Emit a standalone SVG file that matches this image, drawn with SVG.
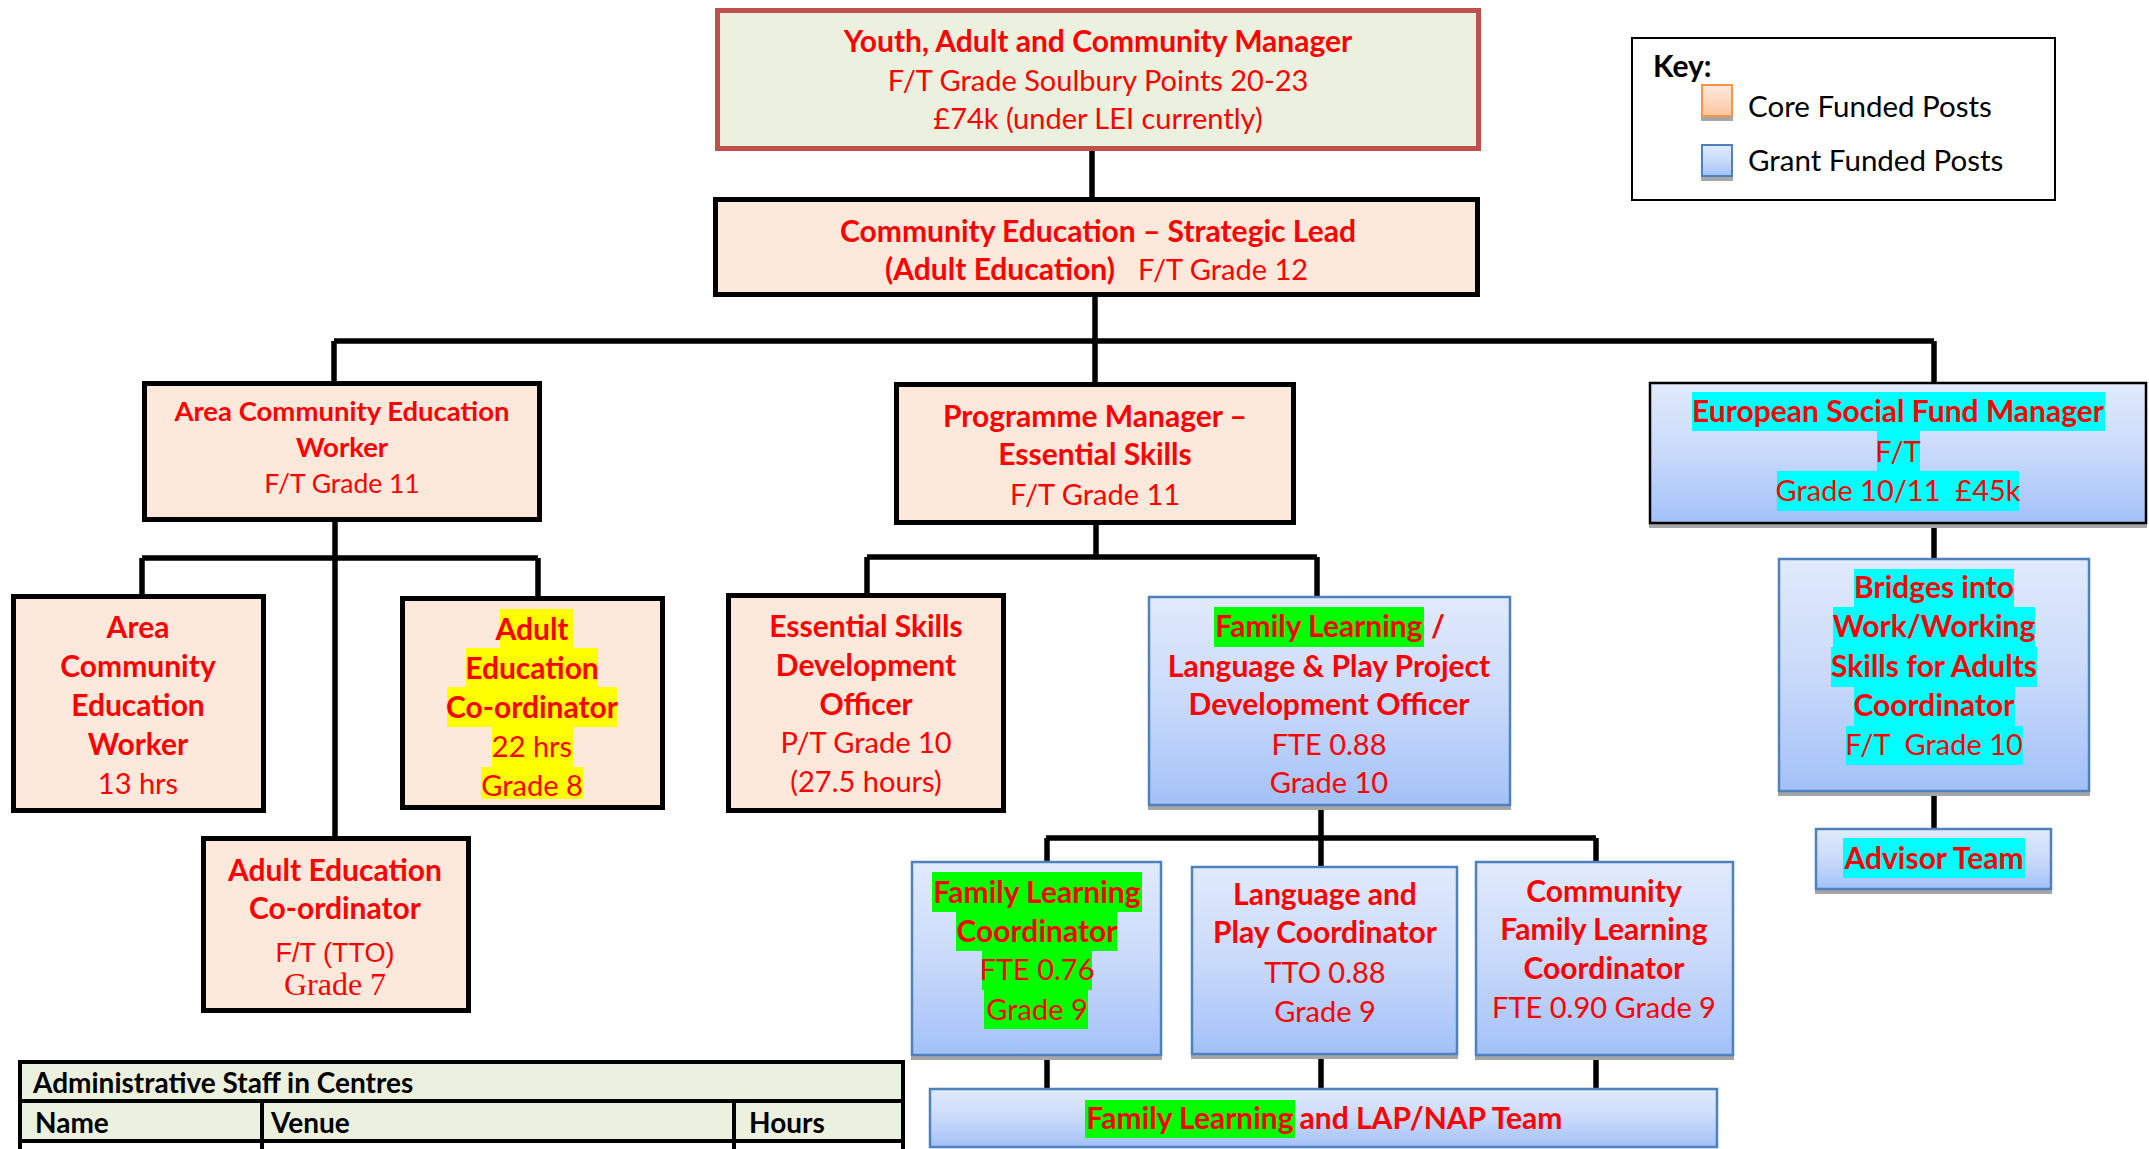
<svg xmlns="http://www.w3.org/2000/svg" width="2149" height="1149" viewBox="0 0 2149 1149">
<defs>
<linearGradient id="gBlue" x1="0" y1="0" x2="0" y2="1">
<stop offset="0" stop-color="#E1EAFC"/>
<stop offset="0.5" stop-color="#C9DAFA"/>
<stop offset="1" stop-color="#A3C1F8"/>
</linearGradient>
<linearGradient id="gOrange" x1="0" y1="0" x2="0" y2="1">
<stop offset="0" stop-color="#FEEADC"/>
<stop offset="1" stop-color="#FBC6A0"/>
</linearGradient>
<style>
.b{font-family:Lato,"Liberation Sans",sans-serif;font-weight:bold;font-size:30px;fill:#FF0000;text-anchor:middle}
.r{font-family:Lato,"Liberation Sans",sans-serif;font-weight:normal;font-size:29px;fill:#FF0000;text-anchor:middle}
.bs{font-size:27.5px}
.rs{font-size:26.5px}
.core{fill:#FDE9DB;stroke:#000;stroke-width:5}
.grant{fill:url(#gBlue);stroke:#4F81BD;stroke-width:2.5}
.shadow{fill:#A6A6A6}
.hy{fill:#FFFF00}
.hg{fill:#00FF00}
.hc{fill:#00FFFF}
.conn{fill:none;stroke:#000;stroke-width:5.5}
.tb{font-family:Lato,"Liberation Sans",sans-serif;font-weight:bold;font-size:28px;fill:#000}
.kt{font-family:Lato,"Liberation Sans",sans-serif;font-size:29.5px;fill:#000}
</style>
</defs>
<rect width="2149" height="1149" fill="#FFFFFF"/>

<g id="connectors">
<path class="conn" d="M1092,151 V199"/>
<path class="conn" d="M1095,296 V341"/>
<path class="conn" d="M334,341 H1934"/>
<path class="conn" d="M334,341 V381"/>
<path class="conn" d="M1095,341 V384"/>
<path class="conn" d="M1934,341 V382"/>
<path class="conn" d="M335,522 V836"/>
<path class="conn" d="M142,558 H538"/>
<path class="conn" d="M142,558 V594"/>
<path class="conn" d="M538,558 V596"/>
<path class="conn" d="M1096,525 V557"/>
<path class="conn" d="M867,557 H1317"/>
<path class="conn" d="M867,557 V593"/>
<path class="conn" d="M1317,557 V596"/>
<path class="conn" d="M1321,806 V838"/>
<path class="conn" d="M1046,838 H1596"/>
<path class="conn" d="M1047,838 V861"/>
<path class="conn" d="M1321,838 V866"/>
<path class="conn" d="M1596,838 V861"/>
<path class="conn" d="M1047,1056 V1088"/>
<path class="conn" d="M1321,1055 V1088"/>
<path class="conn" d="M1596,1056 V1088"/>
<path class="conn" d="M1934,524 V558"/>
<path class="conn" d="M1934,792 V828"/>
</g>

<g id="node-manager">
<rect x="717.5" y="10.5" width="761" height="138" fill="#EBF1DE" stroke="#C0504D" stroke-width="5"/>
<text class="b" x="1098" y="52">Youth, Adult and Community Manager</text>
<text class="r" x="1098" y="91">F/T Grade Soulbury Points 20-23</text>
<text class="r" x="1098" y="129">£74k (under LEI currently)</text>
</g>

<g id="node-strategic-lead">
<rect class="core" x="715.5" y="199.5" width="762" height="95"/>
<text class="b" x="1098" y="242">Community Education – Strategic Lead</text>
<text class="b" x="1000" y="280">(Adult Education)</text>
<text class="r" x="1223" y="280">F/T Grade 12</text>
</g>

<g id="node-area-worker">
<rect class="core" x="144.5" y="383.5" width="395" height="136"/>
<text class="b bs" x="342" y="421">Area Community Education</text>
<text class="b bs" x="342" y="457">Worker</text>
<text class="r rs" x="342" y="493">F/T Grade 11</text>
</g>

<g id="node-area-worker-13">
<rect class="core" x="13.5" y="596.5" width="250" height="214"/>
<text class="b" x="138" y="638">Area</text>
<text class="b" x="138" y="677">Community</text>
<text class="b" x="138" y="716">Education</text>
<text class="b" x="138" y="755">Worker</text>
<text class="r" x="138" y="794">13 hrs</text>
</g>

<g id="node-adult-ed-coord-22">
<rect class="core" x="402.5" y="598.5" width="260" height="209"/>
<rect class="hy" x="500" y="609" width="73" height="39"/>
<rect class="hy" x="466" y="648" width="132" height="39"/>
<rect class="hy" x="447" y="687" width="170" height="40"/>
<rect class="hy" x="492" y="727" width="81" height="40"/>
<rect class="hy" x="481" y="767" width="102" height="32"/>
<text class="b" x="532" y="640">Adult</text>
<text class="b" x="532" y="679">Education</text>
<text class="b" x="532" y="718">Co-ordinator</text>
<text class="r" x="532" y="757">22 hrs</text>
<text class="r" x="532" y="796">Grade 8</text>
</g>

<g id="node-adult-ed-coord-tto">
<rect class="core" x="203.5" y="838.5" width="265" height="172"/>
<text class="b" x="335" y="881">Adult Education</text>
<text class="b" x="335" y="919">Co-ordinator</text>
<text x="335" y="962" style="font-family:'Liberation Sans',Arial,sans-serif;font-size:27px;fill:#FF0000;text-anchor:middle">F/T (TTO)</text>
<text x="335" y="995" style="font-family:'Liberation Serif','Times New Roman',serif;font-size:32px;fill:#FF0000;text-anchor:middle">Grade 7</text>
</g>

<g id="node-programme-manager">
<rect class="core" x="896.5" y="384.5" width="397" height="138"/>
<text class="b" x="1095" y="427">Programme Manager –</text>
<text class="b" x="1095" y="465">Essential Skills</text>
<text class="r" x="1095" y="505">F/T Grade 11</text>
</g>

<g id="node-essential-skills-officer">
<rect class="core" x="728.5" y="595.5" width="275" height="215"/>
<text class="b" x="866" y="637">Essential Skills</text>
<text class="b" x="866" y="676">Development</text>
<text class="b" x="866" y="715">Officer</text>
<text class="r" x="866" y="753">P/T Grade 10</text>
<text class="r" x="866" y="792">(27.5 hours)</text>
</g>

<g id="node-family-learning-officer">
<rect class="shadow" x="1148" y="600" width="363" height="210"/>
<rect class="grant" x="1149" y="597" width="361" height="208"/>
<rect class="hg" x="1214" y="607" width="210" height="40"/>
<text class="b" x="1319" y="637">Family Learning</text>
<text class="b" x="1438" y="637">/</text>
<text class="b" x="1329" y="677">Language &amp; Play Project</text>
<text class="b" x="1329" y="715">Development Officer</text>
<text class="r" x="1329" y="755">FTE 0.88</text>
<text class="r" x="1329" y="793">Grade 10</text>
</g>

<g id="node-family-learning-coord">
<rect class="shadow" x="911" y="865" width="251" height="195"/>
<rect class="grant" x="912" y="862" width="249" height="193"/>
<rect class="hg" x="932" y="872" width="210" height="40"/>
<rect class="hg" x="956" y="912" width="161" height="39"/>
<rect class="hg" x="982" y="951" width="110" height="39"/>
<rect class="hg" x="984" y="990" width="104" height="39"/>
<text class="b" x="1037" y="903">Family Learning</text>
<text class="b" x="1037" y="942">Coordinator</text>
<text class="r" x="1037" y="980">FTE 0.76</text>
<text class="r" x="1037" y="1020">Grade 9</text>
</g>

<g id="node-language-play-coord">
<rect class="shadow" x="1191" y="870" width="267" height="189"/>
<rect class="grant" x="1192" y="867" width="265" height="187"/>
<text class="b" x="1325" y="905">Language and</text>
<text class="b" x="1325" y="943">Play Coordinator</text>
<text class="r" x="1325" y="983">TTO 0.88</text>
<text class="r" x="1325" y="1022">Grade 9</text>
</g>

<g id="node-community-family-learning">
<rect class="shadow" x="1475" y="865" width="259" height="195"/>
<rect class="grant" x="1476" y="862" width="257" height="193"/>
<text class="b" x="1604" y="902">Community</text>
<text class="b" x="1604" y="940">Family Learning</text>
<text class="b" x="1604" y="979">Coordinator</text>
<text class="r" x="1604" y="1018">FTE 0.90 Grade 9</text>
</g>

<g id="node-team">
<rect class="grant" x="930" y="1089" width="787" height="58"/>
<rect class="hg" x="1085" y="1100" width="210" height="38"/>
<text class="b" x="1190" y="1129">Family Learning</text>
<text class="b" x="1431" y="1129">and LAP/NAP Team</text>
</g>

<g id="node-esf-manager">
<rect class="shadow" x="1649" y="387" width="498" height="141"/>
<rect x="1650" y="383" width="496" height="140" fill="url(#gBlue)" stroke="#000" stroke-width="2.5"/>
<rect class="hc" x="1692" y="392" width="413" height="39"/>
<rect class="hc" x="1877" y="431" width="43" height="40"/>
<rect class="hc" x="1777" y="471" width="242" height="40"/>
<text class="b" x="1898" y="422">European Social Fund Manager</text>
<text class="r" x="1898" y="462">F/T</text>
<text class="r" x="1898" y="501">Grade 10/11 &#160;£45k</text>
</g>

<g id="node-bridges">
<rect class="shadow" x="1778" y="562" width="312" height="234"/>
<rect class="grant" x="1779" y="559" width="310" height="232"/>
<rect class="hc" x="1854" y="569" width="160" height="38"/>
<rect class="hc" x="1833" y="607" width="202" height="40"/>
<rect class="hc" x="1831" y="647" width="206" height="40"/>
<rect class="hc" x="1854" y="687" width="161" height="39"/>
<rect class="hc" x="1846" y="726" width="177" height="39"/>
<text class="b" x="1934" y="598">Bridges into</text>
<text class="b" x="1934" y="637">Work/Working</text>
<text class="b" x="1934" y="677">Skills for Adults</text>
<text class="b" x="1934" y="716">Coordinator</text>
<text class="r" x="1934" y="755">F/T &#160;Grade 10</text>
</g>

<g id="node-advisor-team">
<rect class="shadow" x="1815" y="833" width="237" height="61"/>
<rect class="grant" x="1816" y="829" width="235" height="60"/>
<rect class="hc" x="1843" y="838" width="182" height="40"/>
<text class="b" x="1934" y="869">Advisor Team</text>
</g>

<g id="key">
<rect x="1632" y="38" width="423" height="162" fill="#FFFFFF" stroke="#000" stroke-width="2"/>
<text class="tb" x="1653" y="77" style="font-size:30px">Key:</text>
<rect class="shadow" x="1701" y="88" width="32" height="33"/>
<rect x="1702" y="85" width="30" height="31" fill="url(#gOrange)" stroke="#F79646" stroke-width="2"/>
<text class="kt" x="1748" y="117">Core Funded Posts</text>
<rect class="shadow" x="1701" y="148" width="32" height="33"/>
<rect x="1702" y="145" width="30" height="31" fill="url(#gBlue)" stroke="#4F81BD" stroke-width="2"/>
<text class="kt" x="1748" y="171">Grant Funded Posts</text>
</g>

<g id="admin-table">
<rect x="20" y="1062" width="883" height="79" fill="#EBF1DE"/>
<path d="M20,1062 H903 M20,1101 H903 M20,1141 H903 M20,1060 V1149 M903,1060 V1149 M262,1101 V1149 M734,1101 V1149" fill="none" stroke="#000" stroke-width="4"/>
<text class="tb" x="33" y="1093">Administrative Staff in Centres</text>
<text class="tb" x="35" y="1133">Name</text>
<text class="tb" x="271" y="1133">Venue</text>
<text class="tb" x="749" y="1133">Hours</text>
</g>
</svg>
